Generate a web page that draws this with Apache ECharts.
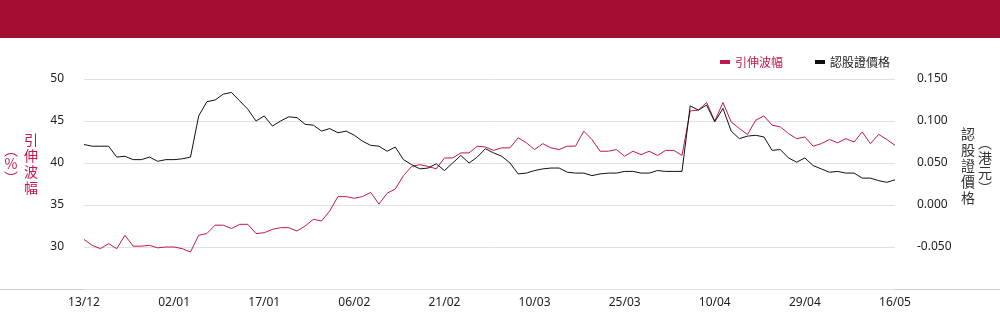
<!DOCTYPE html>
<html>
<head>
<meta charset="utf-8">
<script src="https://cdn.jsdelivr.net/npm/echarts@6/dist/echarts.min.js"></script>
<style>
  html, body { margin: 0; padding: 0; background: #fff; }
  #chart { width: 1000px; height: 324px; }
</style>
</head>
<body>
<div id="chart"></div>
<script>
// 交易日 (13/12 - 16/05)
const dates = [
  '13/12','16/12','17/12','18/12','19/12','20/12','23/12','24/12','27/12','30/12',
  '31/12','02/01','03/01','06/01','07/01','08/01','09/01','10/01','13/01','14/01',
  '15/01','16/01','17/01','20/01','21/01','22/01','23/01','24/01','27/01','28/01',
  '03/02','04/02','05/02','06/02','07/02','10/02','11/02','12/02','13/02','14/02',
  '17/02','18/02','19/02','20/02','21/02','24/02','25/02','26/02','27/02','28/02',
  '03/03','04/03','05/03','06/03','07/03','10/03','11/03','12/03','13/03','14/03',
  '17/03','18/03','19/03','20/03','21/03','24/03','25/03','26/03','27/03','28/03',
  '31/03','01/04','02/04','03/04','07/04','08/04','09/04','10/04','11/04','14/04',
  '15/04','16/04','17/04','22/04','23/04','24/04','25/04','28/04','29/04','30/04',
  '02/05','06/05','07/05','08/05','09/05','12/05','13/05','14/05','15/05','16/05'
];

// 引伸波幅 (%)
const ivData = [
  30.9, 30.2, 29.8, 30.4, 29.8, 31.4, 30.1, 30.1, 30.2, 29.9,
  30.0, 30.0, 29.8, 29.4, 31.4, 31.6, 32.6, 32.6, 32.2, 32.7,
  32.7, 31.6, 31.7, 32.1, 32.3, 32.3, 31.9, 32.5, 33.3, 33.1,
  34.3, 36.0, 36.0, 35.8, 36.0, 36.5, 35.1, 36.4, 36.9, 38.5,
  39.6, 39.8, 39.6, 39.3, 40.6, 40.6, 41.2, 41.2, 42.0, 41.9,
  41.5, 41.8, 41.8, 43.0, 42.4, 41.6, 42.3, 41.8, 41.6, 42.0,
  42.0, 43.8, 42.8, 41.4, 41.4, 41.6, 40.8, 41.4, 41.0, 41.4,
  40.9, 41.5, 41.5, 40.9, 46.2, 46.3, 47.2, 45.0, 47.2, 44.9,
  44.1, 43.4, 45.1, 45.6, 44.5, 44.3, 43.5, 42.9, 43.1, 42.0,
  42.3, 42.8, 42.4, 42.9, 42.5, 43.7, 42.3, 43.4, 42.8, 42.1
];

// 認股證價格 (港元)
const priceData = [
  0.072, 0.070, 0.070, 0.070, 0.057, 0.058, 0.054, 0.054, 0.057, 0.052,
  0.054, 0.054, 0.055, 0.057, 0.106, 0.123, 0.125, 0.132, 0.134, 0.124,
  0.114, 0.100, 0.106, 0.094, 0.100, 0.105, 0.104, 0.096, 0.095, 0.088,
  0.091, 0.086, 0.088, 0.083, 0.076, 0.071, 0.070, 0.064, 0.069, 0.054,
  0.048, 0.043, 0.044, 0.049, 0.041, 0.050, 0.059, 0.050, 0.057, 0.067,
  0.062, 0.058, 0.050, 0.037, 0.038, 0.041, 0.043, 0.044, 0.044, 0.039,
  0.038, 0.038, 0.035, 0.037, 0.038, 0.038, 0.040, 0.040, 0.038, 0.038,
  0.041, 0.040, 0.040, 0.040, 0.118, 0.113, 0.119, 0.099, 0.115, 0.088,
  0.079, 0.082, 0.083, 0.081, 0.065, 0.066, 0.056, 0.051, 0.056, 0.047,
  0.043, 0.039, 0.040, 0.038, 0.038, 0.032, 0.032, 0.029, 0.027, 0.030
];

const ivName = '引伸波幅';
const priceName = '認股證價格';
const red = '#c2184b';
const dark = '#111111';
const font = '"Noto Sans", "Noto Sans CJK TC", sans-serif';
const cjk = '"Noto Sans CJK TC", sans-serif';

let chart = echarts.init(document.getElementById('chart'));
const option = {
  animation: false,
  textStyle: { fontFamily: font },
  legend: {
    top: 51,
    right: 105,
    itemWidth: 10,
    itemHeight: 4,
    itemGap: 32,
    icon: 'rect',
    textStyle: { fontSize: 12, fontFamily: cjk },
    data: [
      { name: ivName, textStyle: { color: red } },
      { name: priceName, textStyle: { color: '#222' } }
    ]
  },
  grid: {
    left: 84,
    right: 105,
    top: 79,
    bottom: 35
  },
  xAxis: {
    type: 'category',
    boundaryGap: false,
    data: dates,
    axisLine: { show: false },
    axisTick: { show: false },
    axisLabel: { interval: 10, color: '#222', fontSize: 12, margin: 8 }
  },
  yAxis: [
    {
      type: 'value',
      min: 25,
      max: 50,
      interval: 5,
      axisLine: { show: false },
      axisTick: { show: false },
      axisLabel: { showMinLabel: false, color: '#222', fontSize: 12, margin: 20 },
      splitLine: { lineStyle: { color: '#e0e0e0' } }
    },
    {
      type: 'value',
      min: -0.1,
      max: 0.15,
      interval: 0.05,
      axisLine: { show: false },
      axisTick: { show: false },
      axisLabel: {
        showMinLabel: false, color: '#222', fontSize: 12, margin: 22,
        formatter: v => v.toFixed(3)
      },
      splitLine: { show: false }
    }
  ],
  series: [
    {
      name: ivName,
      type: 'line',
      yAxisIndex: 0,
      data: ivData,
      showSymbol: false,
      color: red,
      lineStyle: { width: 1, color: red }
    },
    {
      name: priceName,
      type: 'line',
      yAxisIndex: 1,
      data: priceData,
      showSymbol: false,
      color: dark,
      lineStyle: { width: 1, color: dark }
    }
  ],
  graphic: [
    { type: 'rect', shape: { x: 0, y: 0, width: 1000, height: 38 }, style: { fill: '#a50e33' } },
    { type: 'line', shape: { x1: 0, y1: 289.5, x2: 1000, y2: 289.5 }, style: { stroke: '#cccccc', lineWidth: 1 } },
    // 左軸名稱
    {
      type: 'text', left: 24, top: 132,
      style: { text: '引\n伸\n波\n幅', fill: red, fontSize: 14, lineHeight: 16, fontFamily: cjk }
    },
    {
      type: 'text', x: 11, y: 143,
      style: { text: '︵\n%\n︶', fill: red, fontSize: 14, lineHeight: 14, align: 'center', verticalAlign: 'top', fontFamily: cjk }
    },
    // 右軸名稱
    {
      type: 'text', left: 961, top: 126,
      style: { text: '認\n股\n證\n價\n格', fill: '#333', fontSize: 14, lineHeight: 16, fontFamily: cjk }
    },
    {
      type: 'text', x: 985, y: 135,
      style: { text: '︵\n港\n元\n︶', fill: '#333', fontSize: 14, lineHeight: 15, align: 'center', verticalAlign: 'top', fontFamily: cjk }
    }
  ]
};

chart.setOption(option);
window.addEventListener('resize', () => {
  chart.resize();
});
</script>
</body>
</html>
